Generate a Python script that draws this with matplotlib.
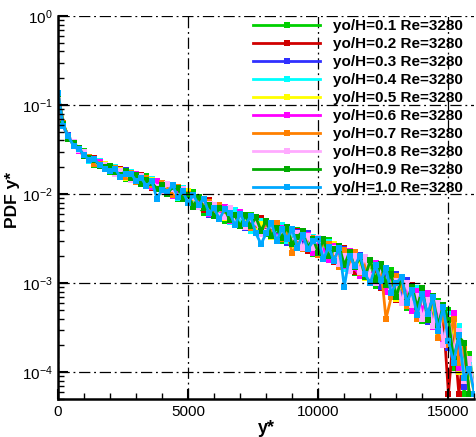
import matplotlib
matplotlib.use("Agg")
import matplotlib.pyplot as plt
import numpy as np
from matplotlib.ticker import MultipleLocator, LogLocator, LogFormatterMathtext, NullFormatter

plt.rcParams['font.family'] = ['Liberation Sans', 'DejaVu Sans']
plt.rcParams['mathtext.default'] = 'regular'

# bin centres of y* (0 .. 16000 step 200)
y_star = list(range(0, 16001, 200))

labels = ["yo/H=0.1 Re=3280", "yo/H=0.2 Re=3280", "yo/H=0.3 Re=3280", "yo/H=0.4 Re=3280",
          "yo/H=0.5 Re=3280", "yo/H=0.6 Re=3280", "yo/H=0.7 Re=3280", "yo/H=0.8 Re=3280",
          "yo/H=0.9 Re=3280", "yo/H=1.0 Re=3280"]
colors = ["#00D000", "#D00000", "#3030FF", "#00FFFF", "#FFFF00",
          "#FF00FF", "#FF8000", "#FFAAFF", "#00AA00", "#00A8FF"]

# log10(PDF)
log_pdf_01 = [-0.86,-1.23,-1.34,-1.46,-1.49,-1.52,-1.62,-1.67,-1.64,-1.68,
              -1.75,-1.70,-1.78,-1.83,-1.77,-1.81,-1.88,-1.80,-1.91,-1.91,
              -1.87,-2.00,-1.94,-2.05,-1.96,-2.06,-1.98,-2.14,-2.21,-2.12,
              -2.22,-2.14,-2.30,-2.22,-2.19,-2.33,-2.32,-2.23,-2.40,-2.33,
              -2.45,-2.35,-2.41,-2.53,-2.40,-2.51,-2.40,-2.60,-2.50,-2.67,
              -2.52,-2.65,-2.52,-2.74,-2.80,-2.68,-2.66,-2.89,-2.77,-2.89,
              -2.76,-3.03,-2.85,-3.00,-2.85,-3.14,-3.03,-3.28,-3.07,-3.08,
              -3.42,-3.15,-3.40,-3.20,-3.59,-3.30,-3.95,-3.63,-4.24,-3.80,
              -4.24]
log_pdf_02 = [-0.88,-1.21,-1.37,-1.42,-1.51,-1.57,-1.59,-1.60,-1.68,-1.67,
              -1.70,-1.77,-1.72,-1.79,-1.84,-1.79,-1.79,-1.88,-1.93,-1.86,
              -1.95,-1.89,-2.02,-1.94,-1.98,-2.10,-2.01,-2.06,-2.18,-2.07,
              -2.13,-2.27,-2.19,-2.18,-2.30,-2.36,-2.23,-2.30,-2.39,-2.27,
              -2.32,-2.43,-2.50,-2.37,-2.42,-2.54,-2.41,-2.50,-2.64,-2.51,
              -2.65,-2.50,-2.61,-2.76,-2.62,-2.61,-2.80,-2.88,-2.73,-2.73,
              -2.94,-2.85,-3.05,-2.84,-2.94,-3.19,-2.98,-3.19,-3.02,-3.32,
              -3.08,-3.38,-3.16,-3.60,-3.37,-4.24,-3.55,-4.24,-3.75,-4.24,
              -4.24]
log_pdf_03 = [-0.87,-1.24,-1.34,-1.45,-1.48,-1.56,-1.58,-1.65,-1.65,-1.72,
              -1.69,-1.75,-1.80,-1.73,-1.82,-1.80,-1.89,-1.83,-1.84,-1.93,
              -1.90,-1.98,-1.90,-2.03,-2.02,-1.96,-2.10,-2.03,-2.09,-2.23,
              -2.14,-2.23,-2.14,-2.30,-2.27,-2.21,-2.38,-2.28,-2.28,-2.41,
              -2.41,-2.32,-2.48,-2.39,-2.55,-2.45,-2.43,-2.58,-2.44,-2.60,
              -2.50,-2.71,-2.59,-2.58,-2.76,-2.62,-2.83,-2.81,-2.68,-2.92,
              -2.80,-2.78,-3.04,-2.88,-3.05,-2.90,-3.17,-2.96,-3.27,-3.13,
              -3.12,-3.44,-3.14,-3.50,-3.25,-3.73,-3.50,-3.66,-4.17,-3.90,
              -4.24]
log_pdf_04 = [-0.86,-1.21,-1.38,-1.43,-1.51,-1.53,-1.63,-1.62,-1.63,-1.71,
              -1.73,-1.70,-1.79,-1.76,-1.75,-1.86,-1.83,-1.89,-1.83,-1.88,
              -1.97,-1.91,-1.92,-2.04,-1.93,-2.05,-2.11,-2.03,-2.15,-2.10,
              -2.24,-2.18,-2.17,-2.31,-2.18,-2.31,-2.26,-2.41,-2.32,-2.30,
              -2.31,-2.45,-2.39,-2.35,-2.53,-2.43,-2.59,-2.46,-2.57,-2.48,
              -2.67,-2.57,-2.54,-2.73,-2.63,-2.84,-2.72,-2.68,-2.88,-2.77,
              -2.74,-2.96,-2.83,-3.09,-2.95,-2.94,-3.20,-3.04,-3.22,-3.06,
              -3.34,-3.13,-3.46,-3.32,-3.65,-3.35,-3.90,-3.48,-4.02,-3.90,
              -4.24]
log_pdf_05 = [-0.88,-1.22,-1.35,-1.46,-1.48,-1.57,-1.59,-1.61,-1.67,-1.66,
              -1.71,-1.76,-1.73,-1.82,-1.78,-1.78,-1.86,-1.89,-1.84,-1.91,
              -1.89,-1.99,-1.91,-2.01,-2.06,-1.97,-2.04,-2.13,-2.05,-2.20,
              -2.15,-2.13,-2.27,-2.20,-2.33,-2.22,-2.33,-2.27,-2.42,-2.34,
              -2.33,-2.48,-2.35,-2.48,-2.40,-2.57,-2.45,-2.44,-2.61,-2.52,
              -2.64,-2.52,-2.68,-2.56,-2.78,-2.67,-2.85,-2.69,-2.76,-2.94,
              -2.77,-2.95,-2.79,-3.06,-2.93,-3.18,-2.97,-3.17,-3.04,-3.29,
              -3.09,-3.41,-3.24,-3.57,-3.27,-3.69,-3.47,-4.00,-3.67,-4.00,
              -4.24]
log_pdf_06 = [-0.86,-1.24,-1.35,-1.44,-1.52,-1.54,-1.61,-1.65,-1.64,-1.70,
              -1.69,-1.76,-1.80,-1.75,-1.81,-1.77,-1.87,-1.84,-1.92,-1.85,
              -1.94,-1.90,-2.02,-1.95,-1.95,-2.09,-2.02,-2.11,-2.06,-2.22,
              -2.13,-2.24,-2.15,-2.30,-2.23,-2.20,-2.35,-2.34,-2.27,-2.42,
              -2.34,-2.33,-2.50,-2.38,-2.51,-2.39,-2.57,-2.49,-2.46,-2.66,
              -2.51,-2.64,-2.74,-2.58,-2.65,-2.81,-2.64,-2.83,-2.92,-2.75,
              -2.96,-2.77,-2.97,-3.10,-2.90,-2.97,-3.21,-3.03,-3.31,-3.09,
              -3.32,-3.11,-3.49,-3.28,-3.67,-3.45,-3.33,-3.95,-3.70,-4.24,
              -4.24]
log_pdf_07 = [-0.87,-1.20,-1.37,-1.43,-1.49,-1.56,-1.58,-1.66,-1.66,-1.67,
              -1.74,-1.71,-1.75,-1.81,-1.76,-1.86,-1.81,-1.82,-1.90,-1.94,
              -1.88,-1.92,-2.01,-1.92,-2.04,-2.00,-2.13,-2.04,-2.14,-2.09,
              -2.23,-2.12,-2.25,-2.19,-2.32,-2.24,-2.23,-2.38,-2.31,-2.44,
              -2.32,-2.44,-2.33,-2.51,-2.44,-2.66,-2.56,-2.62,-2.49,-2.49,
              -2.68,-2.55,-2.56,-2.72,-2.82,-2.63,-2.79,-2.65,-2.89,-2.78,
              -2.99,-2.81,-2.81,-3.40,-3.16,-2.92,-3.02,-3.26,-3.06,-3.40,
              -3.10,-3.37,-3.18,-3.62,-3.35,-3.70,-3.40,-3.90,-3.72,-4.24,
              -4.24]
log_pdf_08 = [-0.86,-1.23,-1.36,-1.42,-1.51,-1.53,-1.62,-1.62,-1.69,-1.67,
              -1.70,-1.77,-1.74,-1.75,-1.84,-1.83,-1.80,-1.90,-1.85,-1.92,
              -1.96,-1.89,-1.94,-2.03,-1.94,-2.07,-2.03,-2.15,-2.07,-2.11,
              -2.12,-2.25,-2.26,-2.16,-2.29,-2.22,-2.37,-2.28,-2.31,-2.45,
              -2.43,-2.34,-2.51,-2.40,-2.38,-2.53,-2.44,-2.61,-2.47,-2.60,
              -2.49,-2.71,-2.61,-2.60,-2.79,-2.69,-2.86,-2.69,-2.87,-2.71,
              -2.92,-3.00,-2.84,-2.84,-3.10,-2.98,-3.22,-3.00,-3.24,-3.15,
              -3.40,-3.19,-3.48,-3.22,-3.69,-3.39,-3.77,-3.54,-4.10,-3.85,
              -4.24]
log_pdf_09 = [-0.88,-1.21,-1.38,-1.43,-1.48,-1.57,-1.59,-1.62,-1.68,-1.70,
              -1.69,-1.75,-1.79,-1.74,-1.82,-1.79,-1.89,-1.84,-1.87,-1.94,
              -1.90,-2.00,-1.92,-1.93,-2.06,-2.01,-2.14,-2.03,-2.16,-2.12,
              -2.25,-2.16,-2.17,-2.29,-2.24,-2.36,-2.24,-2.36,-2.26,-2.41,
              -2.30,-2.47,-2.38,-2.49,-2.37,-2.56,-2.48,-2.42,-2.60,-2.50,
              -2.66,-2.51,-2.70,-2.62,-2.58,-2.80,-2.65,-2.82,-2.71,-2.93,
              -2.74,-2.97,-2.78,-3.02,-2.90,-3.16,-2.93,-3.21,-3.03,-3.27,
              -3.06,-3.41,-3.14,-3.48,-3.25,-3.41,-3.85,-3.60,-3.67,-4.24,
              -4.24]
log_pdf_10 = [-0.86,-1.24,-1.35,-1.46,-1.49,-1.56,-1.62,-1.61,-1.67,-1.72,
              -1.74,-1.72,-1.81,-1.77,-1.77,-1.85,-1.82,-1.91,-1.85,-2.05,
              -1.95,-1.98,-1.90,-2.03,-1.97,-2.10,-2.01,-2.12,-2.05,-2.21,
              -2.16,-2.28,-2.17,-2.21,-2.35,-2.22,-2.34,-2.25,-2.44,-2.56,
              -2.44,-2.32,-2.53,-2.39,-2.50,-2.39,-2.60,-2.46,-2.62,-2.53,
              -2.51,-2.73,-2.59,-2.75,-2.60,-3.04,-2.69,-2.81,-2.69,-2.90,
              -3.00,-2.80,-2.98,-2.83,-3.11,-3.00,-2.93,-3.22,-3.08,-3.36,
              -3.12,-3.35,-3.16,-3.54,-3.27,-3.65,-3.90,-3.58,-4.07,-3.96,
              -4.24]

series = [log_pdf_01, log_pdf_02, log_pdf_03, log_pdf_04, log_pdf_05,
          log_pdf_06, log_pdf_07, log_pdf_08, log_pdf_09, log_pdf_10]

fig = plt.figure(figsize=(4.76, 4.37), dpi=100)
ax = fig.add_axes([0.1218, 0.087, 0.875, 0.8764])

for vals, col, lab in zip(series, colors, labels):
    ax.plot(y_star, np.power(10.0, vals), color=col, lw=2.0, marker='s',
            markersize=4.3, markeredgewidth=0, label=lab)

ax.set_yscale('log')
ax.set_xlim(0, 16000)
ax.set_ylim(5e-5, 1)

ax.xaxis.set_major_locator(MultipleLocator(5000))
ax.xaxis.set_minor_locator(MultipleLocator(1000))
ax.yaxis.set_major_locator(LogLocator(base=10, numticks=10))
ax.yaxis.set_minor_locator(LogLocator(base=10, subs=np.arange(2, 10), numticks=20))
ax.yaxis.set_major_formatter(LogFormatterMathtext())
ax.yaxis.set_minor_formatter(NullFormatter())

ax.grid(True, which='major', color='black', lw=0.9, linestyle=(0, (9, 3, 1.5, 3)))
ax.set_axisbelow(False)

for s in ['top', 'right']:
    ax.spines[s].set_visible(False)
for s in ['left', 'bottom']:
    ax.spines[s].set_linewidth(1.8)

ax.tick_params(which='major', direction='in', length=7, width=1.5, labelsize=11, pad=4)
ax.tick_params(which='minor', direction='in', length=4, width=1.0)
ax.tick_params(top=False, right=False)

ax.set_xlabel('y*', fontsize=13, fontweight='bold', labelpad=1)
ax.set_ylabel('PDF y*', fontsize=12.5, fontweight='bold')
ax.yaxis.set_label_coords(-0.092, 0.52)

leg = ax.legend(loc='upper right', bbox_to_anchor=(0.993, 1.015), frameon=False,
                prop={'weight': 'bold', 'size': 11}, labelspacing=0.26,
                handlelength=4.4, handletextpad=0.8, borderaxespad=0.2,
                numpoints=1, markerscale=1.0)

fig.savefig('out.png', dpi=100)
